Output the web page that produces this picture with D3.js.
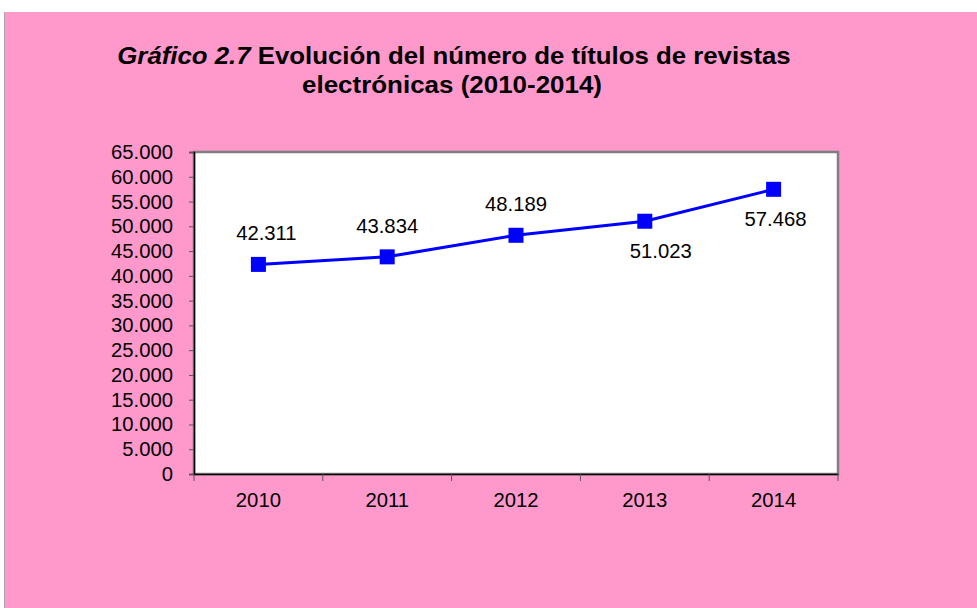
<!DOCTYPE html>
<html>
<head>
<meta charset="utf-8">
<script src="https://cdn.jsdelivr.net/npm/d3@7"></script>
<style>
  html, body { margin: 0; padding: 0; background: #ffffff; }
  svg { display: block; }
  text { font-family: "Liberation Sans", Arial, sans-serif; fill: #000; }
</style>
</head>
<body>
<svg id="chart" width="977" height="608"></svg>
<script>
// ---- data ----
const years = ["2010", "2011", "2012", "2013", "2014"];
const titles = [42311, 43834, 48189, 51023, 57468];
const yTicks = [0, 5000, 10000, 15000, 20000, 25000, 30000, 35000, 40000, 45000, 50000, 55000, 60000, 65000];
const labelSide = ["above", "above", "above", "below", "below"];
const labelShift = [8, 0, 0, 16, 2];
const titleLine1Italic = "Gráfico 2.7";
const titleLine1Rest = " Evolución del número de títulos de revistas";
const titleLine2 = "electrónicas (2010-2014)";

// ---- layout ----
const W = 977, H = 608;
const plot = { left: 194, right: 838, top: 152, bottom: 474 };
const fmt = v => d3.format(",")(v).replace(/,/g, ".");
const FS = 20.3;

const svg = d3.select("#chart");

// background
svg.append("rect").attr("x", 4).attr("y", 12).attr("width", W - 4).attr("height", H - 12)
  .attr("fill", "#ff99cc");
svg.append("line").attr("x1", 4.5).attr("x2", 4.5).attr("y1", 12).attr("y2", H)
  .attr("stroke", "#b0a0a8").attr("stroke-width", 1);

// plot area
svg.append("rect")
  .attr("x", plot.left).attr("y", plot.top)
  .attr("width", plot.right - plot.left).attr("height", plot.bottom - plot.top)
  .attr("fill", "#ffffff").attr("stroke", "#808080").attr("stroke-width", 2.5);

const x = d3.scaleBand().domain(years).range([plot.left, plot.right]).padding(0);
const y = d3.scaleLinear().domain([0, 65000]).range([plot.bottom, plot.top]);

// y axis
const yAxis = svg.append("g").attr("transform", `translate(${plot.left},0)`)
  .call(d3.axisLeft(y).tickValues(yTicks).tickFormat(fmt).tickSize(5).tickPadding(16));
yAxis.select(".domain").attr("stroke", "#000").attr("stroke-width", 1.5);
yAxis.selectAll(".tick line").attr("stroke", "#555").attr("stroke-width", 1);
yAxis.selectAll(".tick text")
  .attr("font-family", "Liberation Sans, Arial, sans-serif")
  .attr("font-size", FS).attr("fill", "#000");

// x axis
const xAxis = svg.append("g").attr("transform", `translate(0,${plot.bottom})`)
  .call(d3.axisBottom(x).tickSize(0).tickPadding(19));
xAxis.select(".domain").attr("stroke", "#000").attr("stroke-width", 1.5);
xAxis.selectAll(".tick text")
  .attr("font-family", "Liberation Sans, Arial, sans-serif")
  .attr("font-size", FS).attr("fill", "#000");
// band boundary tick marks
const bounds = years.map(d => x(d)).concat([x(years[years.length - 1]) + x.bandwidth()]);
svg.append("g").selectAll("line").data(bounds).join("line")
  .attr("x1", d => d).attr("x2", d => d)
  .attr("y1", plot.bottom).attr("y2", plot.bottom + 7)
  .attr("stroke", "#555").attr("stroke-width", 1);

// line + markers
const cx = (d, i) => x(years[i]) + x.bandwidth() / 2;
const line = d3.line().x((d, i) => cx(d, i)).y(d => y(d));
svg.append("path").datum(titles).attr("d", line)
  .attr("fill", "none").attr("stroke", "#0000ff").attr("stroke-width", 3);
const ms = 15;
svg.append("g").selectAll("rect").data(titles).join("rect")
  .attr("x", (d, i) => cx(d, i) - ms / 2).attr("y", d => y(d) - ms / 2)
  .attr("width", ms).attr("height", ms).attr("fill", "#0000ff");

// data labels
svg.append("g").selectAll("text").data(titles).join("text")
  .attr("text-anchor", "middle")
  .attr("font-size", FS)
  .attr("x", (d, i) => cx(d, i) + labelShift[i])
  .attr("y", (d, i) => y(d) + (labelSide[i] === "above" ? -24 : 37))
  .text(d => fmt(d));

// title
const t1 = svg.append("text").attr("x", 454).attr("y", 64).attr("text-anchor", "middle")
  .attr("font-size", 23.5).attr("font-weight", "bold");
t1.append("tspan").attr("font-style", "italic").text(titleLine1Italic);
t1.append("tspan").text(titleLine1Rest);
const t2 = svg.append("text").attr("x", 452).attr("y", 93).attr("text-anchor", "middle")
  .attr("font-size", 23.5).attr("font-weight", "bold").text(titleLine2);
// fit title widths to the original's measured span
[[t1, 674], [t2, 300]].forEach(([t, w]) => {
  const nat = t.node().getComputedTextLength();
  const s = w / nat;
  const ax = +t.attr("x");
  t.attr("transform", `translate(${ax * (1 - s)},0) scale(${s},1)`);
});
</script>
</body>
</html>
